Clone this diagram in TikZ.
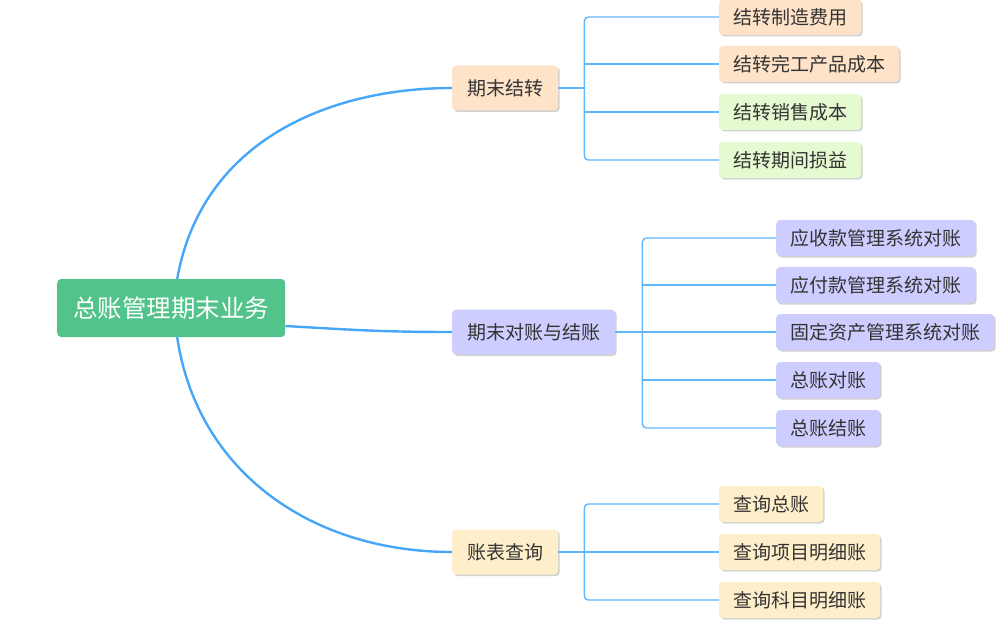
\documentclass[tikz,border=0pt]{standalone}
\usepackage{fontspec}
\setmainfont{Noto Sans CJK SC}
\usetikzlibrary{positioning,shadows}
\definecolor{rootgreen}{RGB}{82,195,138}
\definecolor{peach}{RGB}{254,227,201}
\definecolor{mint}{RGB}{229,250,208}
\definecolor{lilac}{RGB}{205,205,255}
\definecolor{cream}{RGB}{254,239,202}
\definecolor{trunkblue}{RGB}{70,166,248}
\definecolor{twigblue}{RGB}{98,182,250}
\definecolor{ink}{RGB}{51,51,51}
\tikzset{
  trunk/.style   = {draw=trunkblue, line width=2.4pt},
  twig/.style    = {draw=twigblue, line width=1.4pt, rounded corners=4pt},
  shd/.style     = {drop shadow={shadow xshift=1.5pt, shadow yshift=-1.5pt,
                    opacity=0.18, fill=black}},
  rootbox/.style = {fill=rootgreen, text=white, rounded corners=4pt,
                    minimum height=58pt, inner xsep=16pt, anchor=west,
                    font=\fontsize{24.5}{28}\selectfont},
  midbox/.style  = {shd, rounded corners=4pt, minimum height=45pt,
                    inner xsep=15pt, anchor=west, text=ink,
                    font=\fontsize{19}{22}\selectfont},
  leafbox/.style = {shd, rounded corners=4pt, minimum height=36pt,
                    inner xsep=14pt, anchor=west, text=ink,
                    font=\fontsize{19}{22}\selectfont},
}
\begin{document}
\begin{tikzpicture}[x=1pt, y=-1pt]
  \useasboundingbox (0,0) rectangle (1004,623);
  \node[rootbox] (root) at (57,308) {总账管理期末业务};
  \node[midbox, fill=peach] (p1) at (452,88) {期末结转};
  \node[midbox, fill=lilac] (p2) at (452,332) {期末对账与结账};
  \node[midbox, fill=cream] (p3) at (452,552) {账表查询};
  % 期末结转
  \node[leafbox, fill=peach] (a1) at (719,17) {结转制造费用};
  \node[leafbox, fill=peach] (a2) at (719,64) {结转完工产品成本};
  \node[leafbox, fill=mint] (a3) at (719,112) {结转销售成本};
  \node[leafbox, fill=mint] (a4) at (719,160) {结转期间损益};
  % 期末对账与结账
  \node[leafbox, fill=lilac] (b1) at (776,238) {应收款管理系统对账};
  \node[leafbox, fill=lilac] (b2) at (776,285) {应付款管理系统对账};
  \node[leafbox, fill=lilac] (b3) at (776,332) {固定资产管理系统对账};
  \node[leafbox, fill=lilac] (b4) at (776,380) {总账对账};
  \node[leafbox, fill=lilac] (b5) at (776,428) {总账结账};
  % 账表查询
  \node[leafbox, fill=cream] (c1) at (719,504) {查询总账};
  \node[leafbox, fill=cream] (c2) at (719,552) {查询项目明细账};
  \node[leafbox, fill=cream] (c3) at (719,600) {查询科目明细账};
  % trunks
  \draw[trunk] ([xshift=6pt]root.north) .. controls +(25,-140) and +(-120,0) .. (p1.west);
  \draw[trunk] ([yshift=-18pt]root.east) .. controls +(70,4) and +(-70,0) .. (p2.west);
  \draw[trunk] ([xshift=6pt]root.south) .. controls +(20,135) and +(-140,0) .. (p3.west);
  % twigs
  \draw[twig] (p1.east) -- ++(26,0) coordinate (j1);
  \draw[twig] (a1.west) -| (j1) |- (a4.west);
  \foreach \n in {a2,a3}
    \draw[twig] (j1 |- \n.west) -- (\n.west);
  \draw[twig] (p2.east) -- ++(27,0) coordinate (j2);
  \draw[twig] (b1.west) -| (j2) |- (b5.west);
  \foreach \n in {b2,b3,b4}
    \draw[twig] (j2 |- \n.west) -- (\n.west);
  \draw[twig] (p3.east) -- ++(26,0) coordinate (j3);
  \draw[twig] (c1.west) -| (j3) |- (c3.west);
  \draw[twig] (j3 |- c2.west) -- (c2.west);
\end{tikzpicture}
\end{document}
